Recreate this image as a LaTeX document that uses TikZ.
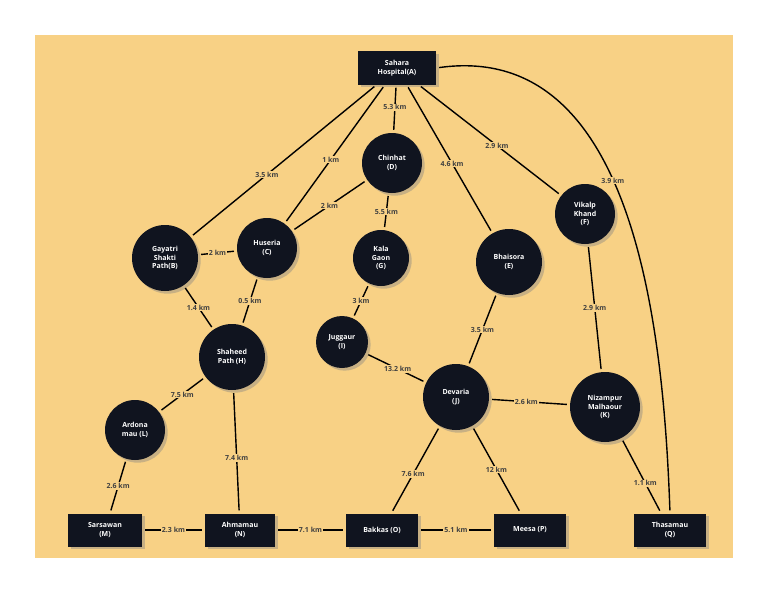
\documentclass[tikz,border=0pt]{standalone}
\usepackage{fontspec}
\setmainfont{Open Sans}
\usetikzlibrary{positioning}
\usetikzlibrary{shadows}
\definecolor{sand}{HTML}{F8D185}
\definecolor{ink}{HTML}{10141F}
\tikzset{>=latex}
\tikzstyle{stop} = [circle, fill = ink, text = white, font = \bfseries\fontsize{7}{8.5}\selectfont, align = center, inner sep = 1, drop shadow = {opacity = 0.4}]
\tikzstyle{term} = [rectangle, fill = ink, text = white, font = \bfseries\fontsize{7}{8.5}\selectfont, align = center, minimum height = 33, drop shadow = {opacity = 0.4}]
\tikzstyle{road} = [-, line width = 1.4, black, shorten < = 3, shorten > = 3]
\tikzstyle{km} = [fill = sand, text = black!75, font = \bfseries\fontsize{7}{8}\selectfont, inner sep = 1]

\begin{document}
\begin{tikzpicture}[x = 1pt, y = -1pt]
\useasboundingbox (0, 0) rectangle (768, 594);
\fill [white] (0, 0) rectangle (768, 594);
\fill [sand] (35, 35) rectangle (733, 558);
\node [term, minimum width = 78] (A) at (397, 68) {Sahara\\Hospital(A)};
\node [stop, minimum size = 60] (D) at (392, 163) {Chinhat\\(D)};
\node [stop, minimum size = 66] (B) at (165, 258) {Gayatri\\Shakti\\Path(B)};
\node [stop, minimum size = 60] (C) at (267, 248) {Huseria\\(C)};
\node [stop, minimum size = 56] (G) at (381, 258) {Kala\\Gaon\\(G)};
\node [stop, minimum size = 66] (E) at (509, 262) {Bhaisora\\(E)};
\node [stop, minimum size = 60] (F) at (585, 214) {Vikalp\\Khand\\(F)};
\node [stop, minimum size = 52] (I) at (342, 342) {Juggaur\\(I)};
\node [stop, minimum size = 66] (H) at (232, 357) {Shaheed\\Path (H)};
\node [stop, minimum size = 66] (J) at (456, 397) {Devaria\\(J)};
\node [stop, minimum size = 70] (K) at (605, 407) {Nizampur\\Malhaour\\(K)};
\node [stop, minimum size = 60] (L) at (135, 430) {Ardona\\mau (L)};
\node [term, minimum width = 74] (M) at (105, 530) {Sarsawan\\(M)};
\node [term, minimum width = 70] (N) at (240, 530) {Ahmamau\\(N)};
\node [term, minimum width = 72] (O) at (382, 530) {Bakkas (O)};
\node [term, minimum width = 72] (P) at (530, 530) {Meesa (P)};
\node [term, minimum width = 72] (Q) at (670, 530) {Thasamau\\(Q)};
\draw [road] (A) to node [km, pos = 0.59] {3.5 km} (B);
\draw [road] (A) to node [km, pos = 0.54] {1 km} (C);
\draw [road] (A) to node [km, pos = 0.47] {5.3 km} (D);
\draw [road] (A) to node [km, pos = 0.53] {4.6 km} (E);
\draw [road] (A) to node [km, pos = 0.55] {2.9 km} (F);
\draw [road] (A.east) to [out = 8, in = 92] node [km, pos = 0.45] {3.9 km} (Q.north);
\draw [road] (D) to node [km] {2 km} (C);
\draw [road] (D) to node [km] {5.5 km} (G);
\draw [road] (B) to node [km] {2 km} (C);
\draw [road] (B) to node [km] {1.4 km} (H);
\draw [road] (C) to node [km] {0.5 km} (H);
\draw [road] (G) to node [km] {3 km} (I);
\draw [road] (I) to node [km, pos = 0.53] {13.2 km} (J);
\draw [road] (E) to node [km] {3.5 km} (J);
\draw [road] (F) to node [km] {2.9 km} (K);
\draw [road] (J) to node [km, pos = 0.46] {2.6 km} (K);
\draw [road] (K) to node [km, pos = 0.6] {1.1 km} (Q);
\draw [road] (H) to node [km] {7.5 km} (L);
\draw [road] (H) to node [km, pos = 0.55] {7.4 km} (N);
\draw [road] (L) to node [km] {2.6 km} (M);
\draw [road] (J) to node [km, pos = 0.55] {7.6 km} (O);
\draw [road] (J) to node [km] {12 km} (P);
\draw [road] (M) to node [km] {2.3 km} (N);
\draw [road] (N) to node [km] {7.1 km} (O);
\draw [road] (O) to node [km] {5.1 km} (P);
\end{tikzpicture}
\end{document}
